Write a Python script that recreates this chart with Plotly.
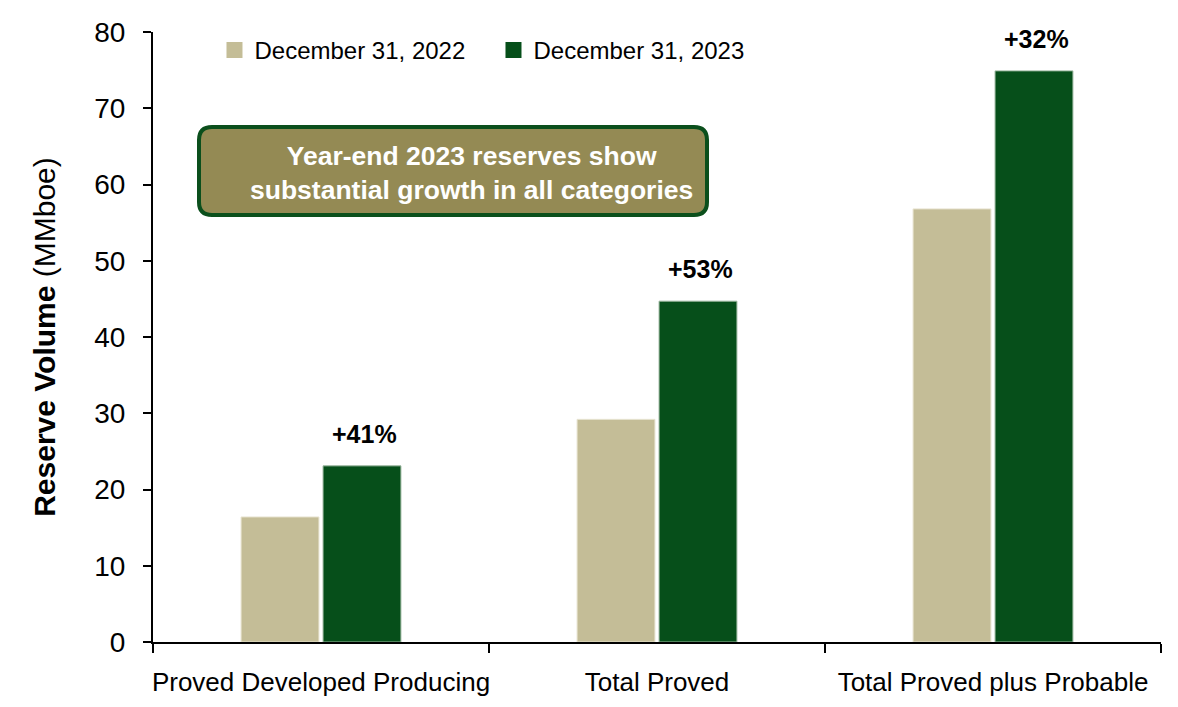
import plotly.graph_objects as go

# Reserve categories and volumes (MMboe)
categories = ["Proved Developed Producing", "Total Proved", "Total Proved plus Probable"]
series_names = ["December 31, 2022", "December 31, 2023"]
reserves_2022 = [16.4, 29.2, 56.8]
reserves_2023 = [23.1, 44.7, 74.9]
growth_labels = ["+41%", "+53%", "+32%"]
y_ticks = [0, 10, 20, 30, 40, 50, 60, 70, 80]

TAN = "#C4BD97"
GREEN = "#064F1A"
BOX_FILL = "#948A54"
BOX_EDGE = "#0B4F1C"
FONT = "Liberation Sans Narrow, Arial Narrow, Liberation Sans, Arial, sans-serif"

fig = go.Figure()
fig.add_trace(go.Bar(x=categories, y=reserves_2022, name=series_names[0], showlegend=False,
                     marker=dict(color=TAN, line=dict(color="#E8E4D2", width=1))))
fig.add_trace(go.Bar(x=categories, y=reserves_2023, name=series_names[1], showlegend=False,
                     marker=dict(color=GREEN, line=dict(color="#9DB8A0", width=1))))

# Legend entries with larger square swatches
for name, color in zip(series_names, [TAN, GREEN]):
    fig.add_trace(go.Scatter(x=[None], y=[None], mode="markers", name=name,
                             marker=dict(symbol="square", size=16, color=color)))

# Growth labels above the 2023 bars
for cat, val, lab in zip(categories, reserves_2023, growth_labels):
    fig.add_annotation(x=cat, y=val, text=f"<b>{lab}</b>", showarrow=False,
                       xref="x", yref="y", xanchor="center", yanchor="bottom",
                       xshift=43, yshift=16, font=dict(size=25, color="black", family=FONT))

# Rounded call-out box
W, H = 1008.0, 610.0
x0, x1 = (199 - 153) / W, (707 - 153) / W
y0, y1 = (642 - 215) / H, (642 - 127) / H
rx, ry = 13 / W, 13 / H
path = (f"M{x0+rx},{y1} L{x1-rx},{y1} Q{x1},{y1} {x1},{y1-ry} "
        f"L{x1},{y0+ry} Q{x1},{y0} {x1-rx},{y0} L{x0+rx},{y0} "
        f"Q{x0},{y0} {x0},{y0+ry} L{x0},{y1-ry} Q{x0},{y1} {x0+rx},{y1} Z")
fig.add_shape(type="path", path=path, xref="paper", yref="paper",
              fillcolor=BOX_FILL, line=dict(color=BOX_EDGE, width=4), layer="above")
fig.add_annotation(x=(471 - 153) / W, y=(y0 + y1) / 2 - 0.003, xref="paper", yref="paper",
                   text="<b>Year-end 2023 reserves show<br>substantial growth in all categories</b>",
                   showarrow=False, xanchor="center", yanchor="middle", align="center",
                   font=dict(size=26.5, color="white", family=FONT))

fig.update_layout(
    width=1178, height=707,
    margin=dict(l=153, r=17, t=32, b=65, autoexpand=False),
    paper_bgcolor="white", plot_bgcolor="white",
    font=dict(family=FONT, color="black"),
    barmode="group", bargap=0.512, bargroupgap=0.05,
    showlegend=True,
    legend=dict(orientation="h", x=0.061, y=0.97, xanchor="left", yanchor="middle",
                font=dict(size=24, family=FONT), bgcolor="rgba(0,0,0,0)",
                itemwidth=30, entrywidth=234, traceorder="normal"),
)
fig.update_xaxes(showline=True, linecolor="black", linewidth=2,
                 ticks="outside", ticklen=9, tickwidth=2, tickcolor="black",
                 tickson="boundaries", tickfont=dict(size=26, family=FONT),
                 tickangle=0, ticklabelstandoff=16, automargin=False, showgrid=False)
fig.update_yaxes(range=[0, 80], tickvals=y_ticks, showline=True, linecolor="black",
                 linewidth=2, ticks="outside", ticklen=8, tickwidth=2, tickcolor="black",
                 tickfont=dict(size=28, family=FONT), ticklabelstandoff=12,
                 showgrid=False, zeroline=False, automargin=False,
                 title=dict(text="<b>Reserve Volume</b> (MMboe)",
                            font=dict(size=30, family=FONT), standoff=30))

fig.write_html("out.html")
